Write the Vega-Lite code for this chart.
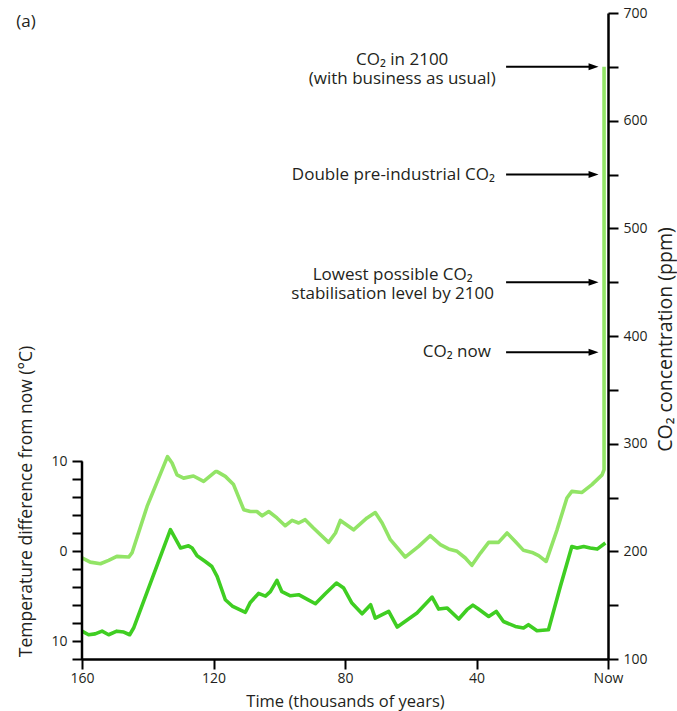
{
  "$schema": "https://vega.github.io/schema/vega-lite/v6.json",
  "width": 526,
  "height": 646,
  "autosize": {"type": "none"},
  "padding": {"left": 82, "top": 13, "right": 69, "bottom": 52},
  "background": "white",
  "config": {
    "font": "Open Sans",
    "view": {"stroke": null},
    "axis": {"grid": false, "domainColor": "#000000", "domainWidth": 2.5, "tickColor": "#000000", "tickWidth": 2, "tickSize": 10, "labelColor": "#231f20", "labelFontSize": 14, "labelFont": "Open Sans", "titleFont": "Open Sans", "titleFontSize": 16.5, "titleFontWeight": "normal", "titleColor": "#231f20"}
  },
  "datasets": {
    "co2": [
      {"t": 160, "ppm": 194}, {"t": 157.5, "ppm": 190}, {"t": 154.4, "ppm": 188.5}, {"t": 151.9, "ppm": 191.6},
      {"t": 149.4, "ppm": 195.3}, {"t": 145.8, "ppm": 194.7}, {"t": 144.8, "ppm": 198.5}, {"t": 140.2, "ppm": 241.7},
      {"t": 134, "ppm": 288}, {"t": 132.6, "ppm": 282}, {"t": 131.1, "ppm": 271}, {"t": 129.1, "ppm": 268},
      {"t": 126.1, "ppm": 270}, {"t": 123, "ppm": 265}, {"t": 119.4, "ppm": 274}, {"t": 118.9, "ppm": 274},
      {"t": 116.4, "ppm": 269.6}, {"t": 113.9, "ppm": 262}, {"t": 110.8, "ppm": 238.7}, {"t": 108.8, "ppm": 237},
      {"t": 106.8, "ppm": 237}, {"t": 105.2, "ppm": 233}, {"t": 103.2, "ppm": 237}, {"t": 100.7, "ppm": 231},
      {"t": 98.2, "ppm": 223.8}, {"t": 96.1, "ppm": 228.7}, {"t": 94.1, "ppm": 226.3}, {"t": 92.1, "ppm": 229.4},
      {"t": 89.6, "ppm": 221.7}, {"t": 85, "ppm": 208.3}, {"t": 82.9, "ppm": 217}, {"t": 81.4, "ppm": 228.7},
      {"t": 77.4, "ppm": 220}, {"t": 73.3, "ppm": 231}, {"t": 70.8, "ppm": 236}, {"t": 68.7, "ppm": 226.3},
      {"t": 66.2, "ppm": 210.8}, {"t": 61.7, "ppm": 194.7}, {"t": 57.6, "ppm": 204.6}, {"t": 54.1, "ppm": 214.5},
      {"t": 51, "ppm": 206.2}, {"t": 48.5, "ppm": 202.2}, {"t": 45.9, "ppm": 200}, {"t": 43.4, "ppm": 193.8},
      {"t": 41.4, "ppm": 187}, {"t": 38.8, "ppm": 198.4}, {"t": 36.3, "ppm": 208.3}, {"t": 33.3, "ppm": 208.3},
      {"t": 30.7, "ppm": 217}, {"t": 28.2, "ppm": 209.2}, {"t": 25.7, "ppm": 200.9}, {"t": 23.1, "ppm": 199},
      {"t": 21.1, "ppm": 196}, {"t": 18.8, "ppm": 190.6}, {"t": 15.5, "ppm": 220}, {"t": 12.5, "ppm": 249.5},
      {"t": 11, "ppm": 255.7}, {"t": 7.9, "ppm": 254.7}, {"t": 4.9, "ppm": 262}, {"t": 1.8, "ppm": 271},
      {"t": 1.2, "ppm": 276}, {"t": 1.2, "ppm": 650}
    ],
    "temp": [
      {"t": 160, "temp": -8.9}, {"t": 158, "temp": -9.3}, {"t": 156, "temp": -9.2}, {"t": 153.9, "temp": -8.9},
      {"t": 151.9, "temp": -9.3}, {"t": 149.4, "temp": -8.9}, {"t": 147.3, "temp": -9.0}, {"t": 145.5, "temp": -9.3},
      {"t": 144.3, "temp": -8.55}, {"t": 133.1, "temp": 2.4}, {"t": 130, "temp": 0.36}, {"t": 127.6, "temp": 0.6},
      {"t": 126.5, "temp": 0.36}, {"t": 125, "temp": -0.5}, {"t": 122.5, "temp": -1.14}, {"t": 120.5, "temp": -1.7},
      {"t": 118.9, "temp": -2.8}, {"t": 116.4, "temp": -5.4}, {"t": 114.3, "temp": -6.1}, {"t": 110.3, "temp": -6.8},
      {"t": 108.8, "temp": -5.7}, {"t": 106.3, "temp": -4.7}, {"t": 104.2, "temp": -5.0}, {"t": 102.7, "temp": -4.5},
      {"t": 100.7, "temp": -3.25}, {"t": 99.2, "temp": -4.5}, {"t": 96.6, "temp": -4.96}, {"t": 94.1, "temp": -4.84},
      {"t": 91.6, "temp": -5.33}, {"t": 89, "temp": -5.85}, {"t": 86, "temp": -4.73}, {"t": 82.6, "temp": -3.54},
      {"t": 80.4, "temp": -4.1}, {"t": 77.9, "temp": -5.77}, {"t": 74.8, "temp": -6.96}, {"t": 72.2, "temp": -5.96},
      {"t": 70.8, "temp": -7.44}, {"t": 66.7, "temp": -6.7}, {"t": 64.1, "temp": -8.44}, {"t": 58.1, "temp": -6.88},
      {"t": 53.5, "temp": -5.1}, {"t": 51.5, "temp": -6.44}, {"t": 48.9, "temp": -6.33}, {"t": 45.4, "temp": -7.55},
      {"t": 42.9, "temp": -6.51}, {"t": 41.1, "temp": -6.0}, {"t": 39.4, "temp": -6.44}, {"t": 36.3, "temp": -7.26},
      {"t": 34, "temp": -6.7}, {"t": 31.8, "temp": -7.82}, {"t": 28.2, "temp": -8.37}, {"t": 25.7, "temp": -8.55},
      {"t": 24.2, "temp": -8.18}, {"t": 21.6, "temp": -8.85}, {"t": 18.1, "temp": -8.74}, {"t": 14.5, "temp": -3.92},
      {"t": 11, "temp": 0.53}, {"t": 9.4, "temp": 0.36}, {"t": 7.4, "temp": 0.53}, {"t": 5.4, "temp": 0.36},
      {"t": 3.3, "temp": 0.24}, {"t": 0.8, "temp": 0.91}
    ],
    "notes": [
      {"label": "CO₂ in 2100\n(with business as usual)", "ppm": 650, "labelAt": 62.6, "lines": 2},
      {"label": "Double pre-industrial CO₂", "ppm": 550, "labelAt": 65.3, "lines": 1},
      {"label": "Lowest possible CO₂\nstabilisation level by 2100", "ppm": 450, "labelAt": 65.5, "lines": 2},
      {"label": "CO₂ now", "ppm": 385, "labelAt": 46, "lines": 1}
    ]
  },
  "layer": [
    {
      "data": {"name": "co2"},
      "mark": {"type": "line", "color": "#92e466", "strokeWidth": 3.6, "strokeJoin": "round"},
      "encoding": {
        "x": {"field": "t", "type": "quantitative", "scale": {"domain": [0, 160], "reverse": true, "nice": false, "zero": false},
              "axis": {"values": [160, 120, 80, 40, 0], "labelExpr": "datum.value == 0 ? 'Now' : datum.label", "labelPadding": 2, "title": "Time (thousands of years)", "titlePadding": 8, "labelFlush": false}},
        "y": {"field": "ppm", "type": "quantitative", "scale": {"domain": [100, 700], "nice": false, "zero": false},
              "axis": {"orient": "right", "values": [100, 150, 200, 250, 300, 350, 400, 450, 500, 550, 600, 650, 700], "labelExpr": "datum.value % 100 == 0 ? datum.label : ''", "labelPadding": 5, "labelBaseline": "middle", "labelFlush": false, "title": "CO₂ concentration (ppm)", "titleFontSize": 19.5, "titleAngle": 270, "titleX": 57, "titleY": 326, "titleAlign": "center", "titleBaseline": "middle"}},
        "order": {"value": null}
      }
    },
    {
      "data": {"name": "temp"},
      "mark": {"type": "line", "color": "#3fce22", "strokeWidth": 3.6, "strokeJoin": "round"},
      "encoding": {
        "x": {"field": "t", "type": "quantitative", "scale": {"domain": [0, 160], "reverse": true, "nice": false, "zero": false}},
        "y": {"field": "temp", "type": "quantitative", "scale": {"domain": [-12, 59.94], "nice": false, "zero": false},
              "axis": {"orient": "left", "domain": false, "values": [-12, -10, -8, -6, -4, -2, 0, 2, 4, 6, 8, 10], "labelExpr": "datum.value == 10 || datum.value == -10 ? '10' : datum.value == 0 ? '0' : ''", "labelPadding": 5, "labelBaseline": "middle", "labelFlush": false, "title": "Temperature difference from now (°C)", "titleFontSize": 17.5, "titleAngle": 270, "titleX": -56, "titleY": 488, "titleAlign": "center", "titleBaseline": "middle"}},
        "order": {"value": null}
      }
    },
    {
      "data": {"values": [{}]},
      "mark": {"type": "rule", "color": "#000000", "strokeWidth": 2.5},
      "encoding": {
        "x": {"datum": 160, "type": "quantitative", "scale": {"domain": [0, 160], "reverse": true, "nice": false, "zero": false}},
        "y": {"datum": -12.1, "type": "quantitative", "scale": {"domain": [-12, 59.94], "nice": false, "zero": false}, "axis": null},
        "y2": {"datum": 10}
      }
    },
    {
      "data": {"name": "notes"},
      "mark": {"type": "rule", "color": "#000000", "strokeWidth": 2},
      "encoding": {
        "x": {"datum": 31, "type": "quantitative", "scale": {"domain": [0, 160], "reverse": true, "nice": false, "zero": false}},
        "x2": {"datum": 4.4},
        "y": {"field": "ppm", "type": "quantitative", "scale": {"domain": [100, 700], "nice": false, "zero": false}, "axis": null}
      }
    },
    {
      "data": {"name": "notes"},
      "mark": {"type": "point", "shape": "M-1,-0.7L1,0L-1,0.7Z", "filled": true, "color": "#000000", "opacity": 1, "size": 100, "strokeWidth": 0},
      "encoding": {
        "x": {"datum": 4.4, "type": "quantitative", "scale": {"domain": [0, 160], "reverse": true, "nice": false, "zero": false}},
        "y": {"field": "ppm", "type": "quantitative", "scale": {"domain": [100, 700], "nice": false, "zero": false}, "axis": null}
      }
    },
    {
      "data": {"name": "notes"},
      "transform": [{"filter": "datum.lines == 2"}],
      "mark": {"type": "text", "align": "center", "baseline": "middle", "lineBreak": "\n", "lineHeight": 19, "dy": -7, "fontSize": 17, "font": "Open Sans", "color": "#231f20"},
      "encoding": {
        "x": {"field": "labelAt", "type": "quantitative", "scale": {"domain": [0, 160], "reverse": true, "nice": false, "zero": false}},
        "y": {"field": "ppm", "type": "quantitative", "scale": {"domain": [100, 700], "nice": false, "zero": false}, "axis": null},
        "text": {"field": "label"}
      }
    },
    {
      "data": {"name": "notes"},
      "transform": [{"filter": "datum.lines == 1"}],
      "mark": {"type": "text", "align": "center", "baseline": "middle", "fontSize": 17, "font": "Open Sans", "color": "#231f20"},
      "encoding": {
        "x": {"field": "labelAt", "type": "quantitative", "scale": {"domain": [0, 160], "reverse": true, "nice": false, "zero": false}},
        "y": {"field": "ppm", "type": "quantitative", "scale": {"domain": [100, 700], "nice": false, "zero": false}, "axis": null},
        "text": {"field": "label"}
      }
    },
    {
      "data": {"values": [{}]},
      "mark": {"type": "text", "align": "left", "baseline": "alphabetic", "fontSize": 17, "font": "Open Sans", "color": "#231f20", "text": "(a)"},
      "encoding": {
        "x": {"datum": 180, "type": "quantitative", "scale": {"domain": [0, 160], "reverse": true, "nice": false, "zero": false}},
        "y": {"datum": 687, "type": "quantitative", "scale": {"domain": [100, 700], "nice": false, "zero": false}, "axis": null}
      }
    }
  ],
  "resolve": {"scale": {"y": "independent"}, "axis": {"y": "independent"}}
}
